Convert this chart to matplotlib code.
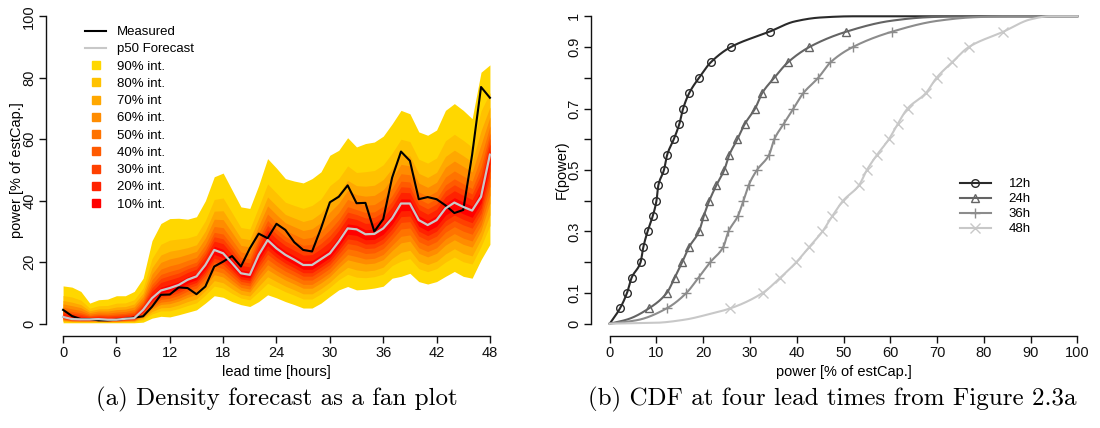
import numpy as np
import matplotlib
matplotlib.use("Agg")
import matplotlib.pyplot as plt
from matplotlib.lines import Line2D
from matplotlib.ticker import FixedLocator, FixedFormatter

plt.rcParams['font.family'] = ['Liberation Sans', 'DejaVu Sans']

# ---------------- fan plot data (hourly, % of estimated capacity) ----------------
lead_hours = list(range(49))

q05 = [0.3, 0.3, 0.3, 0.3, 0.3, 0.3, 0.3, 0.3, 0.3, 0.5,
       1.8, 2.4, 2.2, 2.9, 3.7, 4.5, 6.7, 9.1, 8.6, 7.2,
       6.2, 5.6, 7.2, 9.4, 8.4, 7.2, 6.2, 5.1, 5.1, 6.7,
       8.9, 11.0, 12.1, 11.0, 11.2, 11.6, 12.2, 14.8, 15.4, 16.4,
       13.7, 12.9, 13.7, 15.4, 17.0, 15.4, 14.8, 20.8, 25.8]

q50 = [2.2, 1.5, 1.4, 1.4, 1.5, 1.3, 1.3, 1.6, 1.8, 4.5,
       8.3, 10.8, 11.6, 12.6, 14.3, 15.4, 19.1, 24.0, 22.9, 19.7,
       16.4, 15.9, 22.4, 27.2, 24.5, 22.4, 20.8, 19.1, 19.1, 21.0,
       22.9, 26.7, 31.0, 30.7, 29.1, 29.2, 31.0, 34.3, 39.1, 39.1,
       33.7, 32.1, 33.7, 37.5, 39.4, 38.0, 36.8, 41.3, 55.0]

q95 = [12.3, 11.9, 10.5, 6.7, 7.8, 8.0, 9.1, 9.1, 10.5, 14.8,
       27.0, 32.6, 34.2, 34.3, 34.0, 34.8, 40.0, 47.8, 49.0, 43.5,
       38.0, 37.5, 45.0, 53.7, 50.6, 47.2, 46.4, 45.8, 47.2, 49.4,
       54.8, 56.4, 60.5, 57.5, 58.6, 59.1, 61.0, 65.0, 69.4, 68.3,
       62.4, 61.3, 63.0, 69.4, 71.6, 69.4, 66.7, 81.8, 84.2]

measured = [4.5, 2.5, 1.5, 1.5, 1.1, 1.1, 1.3, 1.6, 2.0, 2.4,
            5.5, 9.4, 9.5, 11.8, 11.6, 9.6, 12.1, 18.6, 20.2, 22.0,
            18.6, 24.5, 29.3, 27.8, 32.5, 30.5, 26.5, 24.0, 23.5, 31.0,
            39.5, 41.3, 45.0, 39.2, 39.3, 30.0, 34.0, 47.5, 56.0, 53.0,
            40.5, 41.2, 40.5, 38.5, 36.0, 37.0, 55.0, 77.0, 73.5]

# central intervals, widest first, with the share of the outer
# (q05/q95) distance from the median covered by each interval edge
interval_labels = ["90% int.", "80% int.", "70% int", "60% int.", "50% int.",
                   "40% int.", "30% int.", "20% int.", "10% int."]
upper_share = [1.0, 0.69, 0.53, 0.42, 0.32, 0.24, 0.18, 0.12, 0.05]
lower_share = [1.0, 0.79, 0.67, 0.54, 0.45, 0.35, 0.26, 0.18, 0.10]
interval_colors = ['#FFD700', '#FFC200', '#FFA800', '#FF8C00', '#FF7300',
                   '#FF5A00', '#FF4000', '#FF2200', '#FF0000']

# ---------------- CDF data: quantiles at four lead times ----------------
prob_levels = [0.05, 0.10, 0.15, 0.20, 0.25, 0.30, 0.35, 0.40, 0.45, 0.50,
               0.55, 0.60, 0.65, 0.70, 0.75, 0.80, 0.85, 0.90, 0.95]

quant_12h = [2.2, 3.7, 4.7, 6.6, 7.2, 8.1, 9.2, 10.0, 10.4, 11.6,
             12.3, 13.7, 14.9, 15.7, 17.0, 19.1, 21.6, 25.9, 34.2]
quant_24h = [8.4, 12.2, 13.9, 15.5, 17.0, 19.1, 20.1, 21.3, 22.8, 24.5,
             25.6, 27.3, 28.9, 31.1, 32.6, 35.2, 38.1, 42.7, 50.6]
quant_36h = [12.2, 16.4, 19.0, 21.5, 24.3, 25.4, 27.4, 28.6, 29.7, 31.5,
             34.1, 35.2, 37.2, 39.3, 41.4, 44.6, 47.2, 52.0, 60.4]
quant_48h = [25.8, 32.7, 36.5, 39.9, 42.7, 45.5, 47.6, 49.9, 53.3, 55.0,
             57.2, 59.7, 61.6, 63.7, 67.6, 69.9, 73.2, 76.8, 84.2]

# tails of each CDF outside the quantile range (power, probability)
tail_low_12h = [(0.0, 0.0)]
tail_high_12h = [(39.5, 0.983), (45.0, 0.996), (52.0, 1.0), (100.0, 1.0)]
tail_low_24h = [(0.0, 0.0), (4.0, 0.015)]
tail_high_24h = [(60.0, 0.985), (68.0, 0.997), (75.0, 1.0), (100.0, 1.0)]
tail_low_36h = [(0.0, 0.0), (6.0, 0.012)]
tail_high_36h = [(70.0, 0.985), (78.0, 0.997), (85.0, 1.0), (100.0, 1.0)]
tail_low_48h = [(0.0, 0.0), (10.0, 0.003), (16.0, 0.013), (21.0, 0.03)]
tail_high_48h = [(90.0, 0.99), (94.0, 1.0), (100.0, 1.0)]

cdf_labels = ["12h", "24h", "36h", "48h"]
cdf_colors = ['#2a2a2a', '#646464', '#8c8c8c', '#c8c8c8']
cdf_markers = ['o', '^', '+', 'x']


def pchip(x, y, xn):
    """Monotone piecewise cubic Hermite interpolation."""
    x = np.asarray(x, float)
    y = np.asarray(y, float)
    h = np.diff(x)
    d = np.diff(y) / h
    m = np.zeros_like(y)
    for k in range(1, len(x) - 1):
        if d[k - 1] * d[k] > 0:
            w1 = 2 * h[k] + h[k - 1]
            w2 = h[k] + 2 * h[k - 1]
            m[k] = (w1 + w2) / (w1 / d[k - 1] + w2 / d[k])
    m[0] = d[0]
    m[-1] = d[-1]
    idx = np.clip(np.searchsorted(x, xn) - 1, 0, len(x) - 2)
    t = (xn - x[idx]) / h[idx]
    h00 = 2 * t**3 - 3 * t**2 + 1
    h10 = t**3 - 2 * t**2 + t
    h01 = -2 * t**3 + 3 * t**2
    h11 = t**3 - t**2
    return (h00 * y[idx] + h10 * h[idx] * m[idx]
            + h01 * y[idx + 1] + h11 * h[idx] * m[idx + 1])


def style_axis(ax):
    for side in ('top', 'right'):
        ax.spines[side].set_visible(False)
    for side in ('left', 'bottom'):
        ax.spines[side].set_linewidth(1.0)
        ax.spines[side].set_color('#111111')
    ax.tick_params(direction='out', length=5, width=1.0, labelsize=10.5,
                   colors='#111111', pad=2)
    plt.setp(ax.get_yticklabels(), rotation=90, va='center')


W, H = 1100, 428
fig = plt.figure(figsize=(W / 100, H / 100), dpi=100)

# ---------------- (a) fan plot ----------------
ax1 = fig.add_axes([46 / W, 92 / H, 461 / W, 332 / H])
t = np.array(lead_hours, float)
lo = np.array(q05)
mid = np.array(q50)
hi = np.array(q95)
for col, us, ls in zip(interval_colors, upper_share, lower_share):
    upper = mid + us * (hi - mid)
    lower = mid - ls * (mid - lo)
    ax1.fill_between(t, lower, upper, color=col, linewidth=0)
ax1.plot(t, measured, color='black', lw=1.5, zorder=5)
ax1.plot(t, q50, color='#c8c8c8', lw=1.6, zorder=6)

ax1.set_xlim(-1.92, 49.92)
ax1.set_ylim(-4, 104)
ax1.set_xticks(range(0, 49, 6))
ax1.set_yticks(range(0, 101, 20))
ax1.spines['left'].set_bounds(0, 100)
ax1.spines['bottom'].set_bounds(0, 48)
style_axis(ax1)
ax1.set_xlabel("lead time [hours]", fontsize=10.5, labelpad=4)
ax1.set_ylabel("power [% of estCap.]", fontsize=10.5, labelpad=-1)

handles = [Line2D([], [], color='black', lw=1.5),
           Line2D([], [], color='#c8c8c8', lw=1.5)]
handles += [Line2D([], [], ls='none', marker='s', markersize=5.5,
                   markerfacecolor=c, markeredgecolor=c) for c in interval_colors]
labels = ["Measured", "p50 Forecast"] + interval_labels
ax1.legend(handles, labels, loc='upper left', bbox_to_anchor=(0.085, 0.934),
           frameon=False, fontsize=9.5, handlelength=1.6, handletextpad=0.8,
           labelspacing=0.38, borderaxespad=0, borderpad=0)

# ---------------- (b) CDFs ----------------
ax2 = fig.add_axes([591 / W, 92 / H, 505 / W, 332 / H])
quants = [quant_12h, quant_24h, quant_36h, quant_48h]
tails_low = [tail_low_12h, tail_low_24h, tail_low_36h, tail_low_48h]
tails_high = [tail_high_12h, tail_high_24h, tail_high_36h, tail_high_48h]
grid = np.linspace(0, 100, 1001)
legend_handles = []
for q, tl, th, col, mk, lab in zip(quants, tails_low, tails_high,
                                    cdf_colors, cdf_markers, cdf_labels):
    px = [p for p, _ in tl] + list(q) + [p for p, _ in th]
    py = [f for _, f in tl] + list(prob_levels) + [f for _, f in th]
    ax2.plot(grid, np.clip(pchip(px, py, grid), 0, 1), color=col, lw=1.5)
    ms = 7 if mk in ('+', 'x') else 5.5
    ax2.plot(q, prob_levels, ls='none', marker=mk, markersize=ms,
             markerfacecolor='none', markeredgecolor=col, markeredgewidth=1.0)
    legend_handles.append(Line2D([], [], color=col, lw=1.5, marker=mk,
                                 markersize=ms, markerfacecolor='none',
                                 markeredgecolor=col, markeredgewidth=1.0))

ax2.set_xlim(-4, 104)
ax2.set_ylim(-0.04, 1.04)
ax2.set_xticks(range(0, 101, 10))
yt = [round(v, 1) for v in np.arange(0, 1.01, 0.1)]
ylabels = ['0', '0.1', '', '0.3', '', '0.5', '', '0.7', '', '0.9', '1']
ax2.yaxis.set_major_locator(FixedLocator(yt))
ax2.yaxis.set_major_formatter(FixedFormatter(ylabels))
ax2.spines['left'].set_bounds(0, 1)
ax2.spines['bottom'].set_bounds(0, 100)
style_axis(ax2)
ax2.set_xlabel("power [% of estCap.]", fontsize=10.5, labelpad=4)
ax2.set_ylabel("F(power)", fontsize=10.5, labelpad=-1)
ax2.legend(legend_handles, cdf_labels, loc='upper left',
           bbox_to_anchor=(0.73, 0.476), frameon=False, fontsize=9.5,
           handlelength=2.4, handletextpad=1.3, labelspacing=0.21,
           borderaxespad=0, borderpad=0)

# ---------------- captions ----------------
fig.text(277 / W, 1 - 399 / H, "(a) Density forecast as a fan plot",
         ha='center', va='center', family='cmr10', fontsize=18)
fig.text(832 / W, 1 - 399 / H, "(b) CDF at four lead times from Figure 2.3a",
         ha='center', va='center', family='cmr10', fontsize=18)

fig.savefig("out.png", dpi=100)
